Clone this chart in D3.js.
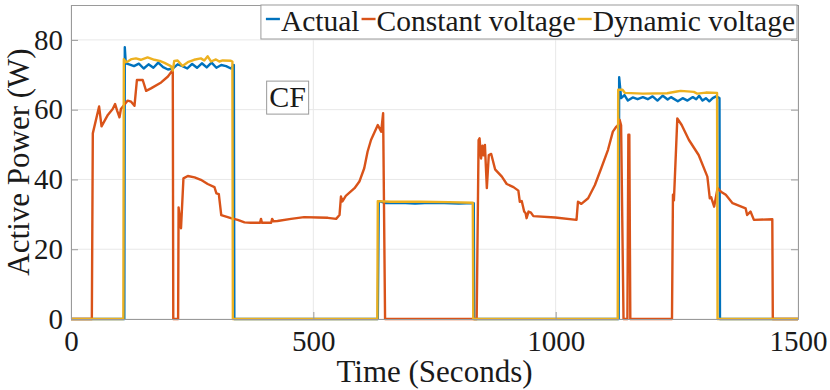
<!DOCTYPE html>
<html>
<head>
<meta charset="utf-8">
<script src="https://cdn.jsdelivr.net/npm/d3@7"></script>
<style>
  body { margin: 0; background: #fff; }
  text { font-family: "Liberation Serif", "Times New Roman", serif; fill: #1a1a1a; }
</style>
</head>
<body>
<div id="plot"></div>
<script>
// [time (s), power (W)]
const actualPoints = [[0,0],[110,0],[111,77.9],[113,73.3],[120,73],[130,72.5],[140,73.2],[150,71.8],[160,73],[170,72],[180,73.5],[190,72.2],[200,71.5],[210,71.8],[220,73],[230,72.5],[240,71.8],[250,73.1],[260,72],[270,73.3],[280,72.1],[290,73.5],[300,72],[310,72.8],[320,72.5],[330,71.8],[336,72.8],[337,0],
  [633,0],[635,33.8],[650,33.2],[680,33.3],[710,33.1],[740,33.3],[770,33.2],[800,33.1],[831,33.2],[832,0],
  [1130,0],[1131,69.3],[1135,63.3],[1142,64.2],[1149,62.6],[1159,63.5],[1169,63.0],[1180,63.6],[1190,63.0],[1200,63.8],[1210,62.6],[1221,64.0],[1231,62.9],[1238,63.6],[1252,62.4],[1262,63.3],[1272,62.6],[1283,63.6],[1290,63.0],[1296,64.0],[1303,62.6],[1310,63.3],[1317,62.4],[1324,63.3],[1331,63.8],[1338,63.3],[1339,0],[1500,0]];

const constantPoints = [[0,0],[43,0],[45,53.2],[58,60.9],[63,55.2],[76,58.5],[86,60.2],[91,61.6],[95,59.8],[100,57.8],[103,60.2],[110,61.4],[117,62.6],[124,62.3],[131,61.1],[136,68.5],[148,68.5],[155,65.4],[165,66.1],[186,67.8],[200,69.5],[210,71.4],[211,0],[221,0],[222,32],[227,26],[232,40.3],[241,41],[255,40.6],[268,39.9],[282,38.7],[296,37.8],[300,36],[305,35.8],[310,29.8],[330,28.9],[344,28.4],[358,27.7],[371,27.6],[390,27.6],[392,28.7],[394,27.6],[413,27.6],[415,28.7],[418,28],[426,28.1],[454,28.7],[481,29.2],[509,29.1],[530,29],[547,28.7],[554,29.8],[557,35.1],[560,33.7],[567,35.3],[585,37.5],[595,39.4],[605,43.2],[612,48],[619,51.3],[633,55.6],[640,53.7],[644,59],[648,0],
  [837,0],[841,51.3],[843,51.8],[846,46],[849,49.7],[851,46.9],[854,49.9],[858,37.5],[862,47],[867,47.3],[875,42.9],[889,40.8],[899,38.7],[913,37.8],[923,36.8],[926,33.6],[930,33.8],[935,30.8],[938,30.3],[940,28.9],[944,30.8],[949,30.5],[954,29.5],[999,29.1],[1043,28.4],[1046,33.6],[1053,33],[1067,34.6],[1081,38.4],[1094,43.2],[1108,48.5],[1118,53.7],[1125,55.1],[1128,55.4],[1132,57.1],[1135,55.5],[1140,0],
  [1148,0],[1150,52.8],[1152,52.8],[1154,0],[1240,0],[1242,35.6],[1244,34],[1251,57.5],[1260,55.6],[1275,51.3],[1295,47],[1313,40.8],[1318,34.6],[1321,34.9],[1323,33.9],[1327,32.2],[1334,37.5],[1341,36.5],[1351,35.6],[1365,33.2],[1392,31.7],[1395,29.8],[1402,30.8],[1409,28.4],[1447,28.6],[1448,0],[1500,0]];

const dynamicPoints = [[0,0],[108,0],[109,74.5],[113,73.6],[117,73.8],[125,74.5],[134,74.7],[144,74.3],[158,75],[172,74.3],[183,74],[193,73.4],[206,72.5],[210,71.2],[213,74],[220,74.1],[230,72.5],[241,73.6],[254,74.3],[268,74.7],[275,74.1],[282,75.3],[289,73.8],[299,74.4],[306,73.8],[313,74.1],[330,74],[333,73.8],[334,0],
  [632,0],[633,33.8],[660,33.6],[720,33.6],[780,33.5],[829,33.3],[830,0],
  [1128,0],[1129,65.7],[1138,65.7],[1143,64.8],[1180,64.6],[1230,64.7],[1250,65.2],[1258,65.4],[1285,65.1],[1292,64.6],[1310,64.9],[1333,64.8],[1334,0],[1500,0]];

const seriesNames = ["Actual", "Constant voltage", "Dynamic voltage"];
const seriesColors = ["#0072BD", "#D95319", "#EDB120"];
const xTicks = [0, 500, 1000, 1500];
const yTicks = [0, 20, 40, 60, 80];
const annotation = "CF";

var width = 830, height = 390;
const margin = {top: 5, right: 32, bottom: 71, left: 71};
var chartWidth = width - margin.left - margin.right;
var chartHeight = height - margin.top - margin.bottom;

var svg = d3.select("#plot")
     .append("svg")
     .attr("width", width)
     .attr("height", height)
     .append("g")
     .attr("transform", "translate(" + margin.left + "," + margin.top + ")");

let scaleX = d3.scaleLinear().domain([0, 1500]).range([0, chartWidth]);
let scaleY = d3.scaleLinear().domain([0, 90]).range([chartHeight, 0]);

// grid
svg.append("g").selectAll("line")
     .data(yTicks)
     .enter().append("line")
     .attr("x1", 0).attr("x2", chartWidth)
     .attr("y1", d => scaleY(d)).attr("y2", d => scaleY(d))
     .attr("stroke", "#e8e8e8");
svg.append("g").selectAll("line")
     .data(xTicks)
     .enter().append("line")
     .attr("y1", 0).attr("y2", chartHeight)
     .attr("x1", d => scaleX(d)).attr("x2", d => scaleX(d))
     .attr("stroke", "#e8e8e8");

// lines
let line = d3.line()
     .x(d => scaleX(d[0]))
     .y(d => scaleY(d[1]));

[actualPoints, constantPoints, dynamicPoints].forEach(function(pts, i) {
     svg.append("path")
          .datum(pts)
          .attr("d", line)
          .attr("fill", "none")
          .attr("stroke", seriesColors[i])
          .attr("stroke-width", 2.4)
          .attr("stroke-linejoin", "round");
});

// axes, ticks inside like matlab
svg.append("g")
     .attr("transform", "translate(0," + chartHeight + ")")
     .call(d3.axisBottom(scaleX).tickValues(xTicks).tickFormat(d3.format("d")).tickSize(-7).tickPadding(10))
     .call(g => g.selectAll("text").style("font-size", "29px").attr("dy", "0.75em"));
svg.append("g")
     .call(d3.axisLeft(scaleY).tickValues(yTicks).tickSize(-7).tickPadding(8))
     .call(g => g.selectAll("text").style("font-size", "29px"));
svg.append("g")
     .attr("transform", "translate(" + chartWidth + ",0)")
     .call(d3.axisRight(scaleY).tickValues(yTicks).tickSize(-7).tickFormat(""));
svg.append("g")
     .call(d3.axisTop(scaleX).tickValues(xTicks).tickSize(-7).tickFormat(""));
svg.selectAll(".domain, .tick line").attr("stroke", "#9a9a9a");
svg.selectAll(".domain").attr("stroke-width", 1);

// axis titles
svg.append("text")
     .attr("x", chartWidth / 2)
     .attr("y", chartHeight + 63)
     .attr("text-anchor", "middle")
     .style("font-size", "31px")
     .text("Time (Seconds)");
svg.append("text")
     .attr("transform", "translate(" + (-42) + "," + (chartHeight / 2) + ") rotate(-90)")
     .attr("text-anchor", "middle")
     .style("font-size", "31px")
     .text("Active Power (W)");

// CF label
let cf = svg.append("g").attr("transform", "translate(" + scaleX(447) + "," + scaleY(63.6) + ")");
cf.append("rect")
     .attr("x", -21).attr("y", -16)
     .attr("width", 42).attr("height", 33)
     .attr("fill", "#fff")
     .attr("stroke", "#9a9a9a");
cf.append("text")
     .attr("text-anchor", "middle")
     .attr("y", 10)
     .style("font-size", "30px")
     .text(annotation);

// legend along the top edge
let legend = svg.append("g");
let legendBox = legend.append("rect")
     .attr("y", 0).attr("height", 34)
     .attr("fill", "#fff")
     .attr("stroke", "#9a9a9a");
let lx = 0;
seriesNames.forEach(function(name, i) {
     let item = legend.append("g").attr("transform", "translate(" + lx + ",0)");
     item.append("line")
          .attr("x1", 2).attr("x2", 16)
          .attr("y1", 14).attr("y2", 14)
          .attr("stroke", seriesColors[i])
          .attr("stroke-width", 2.4);
     let t = item.append("text")
          .attr("x", 17).attr("y", 26)
          .style("font-size", "29.5px")
          .text(name);
     lx += 17 + t.node().getComputedTextLength();
});
legendBox.attr("x", -3).attr("width", lx + 5);
legend.attr("transform", "translate(" + (chartWidth - lx - 3) + ",0)");
</script>
</body>
</html>
